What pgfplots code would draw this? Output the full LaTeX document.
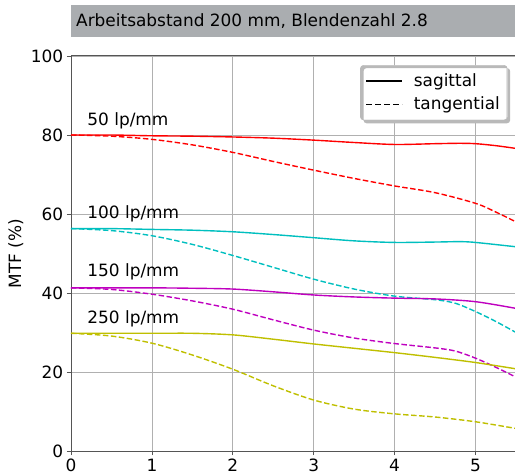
\documentclass[border=0pt]{standalone}
\usepackage{pgfplots}
\pgfplotsset{compat=1.18}
\usepackage{fontspec}
\setmainfont{DejaVu Sans}
\definecolor{mr}{HTML}{FF0000}
\definecolor{mc}{HTML}{00BFBF}
\definecolor{mm}{HTML}{BF00BF}
\definecolor{my}{HTML}{BFBF00}
\definecolor{titlegray}{HTML}{AAADB0}
\definecolor{gridgray}{HTML}{B0B0B0}
\definecolor{spine}{HTML}{555555}
\begin{document}
\begin{tikzpicture}
\fontsize{17}{20}\selectfont
\begin{axis}[
    name=ax,
    scale only axis,
    width=445bp, height=395bp,
    xmin=0, xmax=5.5,
    ymin=0, ymax=100,
    xtick={0,1,2,3,4,5},
    ytick={0,20,40,60,80,100},
    grid=major,
    major grid style={gridgray, line width=0.8pt},
    axis line style={spine, line width=1pt},
    tick style={spine, line width=0.8pt},
    tick align=outside,
    major tick length=4bp,
    xtick pos=bottom, ytick pos=left,
    /pgf/number format/assume math mode=true,
    ticklabel style={font=\fontsize{17}{20}\selectfont},
    xticklabel style={yshift=2bp},
    yticklabel style={xshift=2bp},
    ylabel={MTF (\%)},
    ylabel style={font=\fontsize{17}{20}\selectfont, yshift=-4bp},
    legend style={name=leg, at={(0.98,0.977)}, anchor=north east, draw=black!30,
        rounded corners=3pt, fill=white, font=\fontsize{17}{20}\selectfont,
        row sep=4bp, inner xsep=5bp, inner ysep=6bp,
        /tikz/every odd column/.append style={column sep=9bp}},
    legend cell align=left,
    legend image code/.code={\draw[#1, rounded corners=0pt] (0bp,0bp) -- (36bp,0bp);},
    every axis plot/.append style={line width=1.4pt, smooth},
]
\addlegendimage{black, line width=1.1pt}
\addlegendentry{sagittal}
\addlegendimage{black, line width=1.1pt, dash pattern=on 6bp off 3bp}
\addlegendentry{tangential}
% 50 lp/mm
\addplot[mr] coordinates {(0,80)(0.5,80)(1,79.8)(1.5,79.7)(2,79.5)(2.5,79.2)(3,78.7)(3.5,78.1)(4,77.6)(4.5,77.8)(4.8,77.9)(5,77.8)(5.25,77.3)(5.5,76.6)};
\addplot[mr, dash pattern=on 5.5bp off 2.5bp] coordinates {(0,80)(0.5,79.7)(1,78.9)(1.5,77.5)(2,75.6)(2.5,73.3)(3,71.1)(3.5,69)(4,67.1)(4.5,65.4)(5,62.7)(5.25,60.5)(5.5,58)};
% 100 lp/mm
\addplot[mc] coordinates {(0,56.3)(0.5,56.3)(1,56.1)(1.5,55.9)(2,55.5)(2.5,54.8)(3,54)(3.5,53.2)(4,52.8)(4.5,52.9)(4.8,53)(5,52.8)(5.5,51.7)};
\addplot[mc, dash pattern=on 5.5bp off 2.5bp] coordinates {(0,56.3)(0.5,55.8)(1,54.5)(1.5,52.3)(2,49.5)(2.5,46.5)(3,43.5)(3.5,41)(4,39.2)(4.5,38.3)(4.75,37.4)(5,35.3)(5.25,32.8)(5.5,30)};
% 150 lp/mm
\addplot[mm] coordinates {(0,41.3)(1,41.3)(1.5,41.2)(2,41)(2.5,40.3)(3,39.5)(3.5,39)(4,38.7)(4.5,38.5)(5,37.8)(5.5,36.1)};
\addplot[mm, dash pattern=on 5.5bp off 2.5bp] coordinates {(0,41.3)(0.5,40.9)(1,39.7)(1.5,38)(2,35.9)(2.5,33.2)(3,30.6)(3.5,28.6)(4,27.2)(4.5,26.1)(4.75,25.3)(5,23.5)(5.25,21.2)(5.5,18.7)};
% 250 lp/mm
\addplot[my] coordinates {(0,29.8)(1,29.8)(1.5,29.8)(2,29.4)(2.5,28.3)(3,27.1)(3.5,26)(4,24.9)(4.5,23.7)(5,22.4)(5.5,20.8)};
\addplot[my, dash pattern=on 5.5bp off 2.5bp] coordinates {(0,29.8)(0.5,29.1)(1,27.3)(1.5,24.3)(2,20.7)(2.5,16.5)(3,12.9)(3.5,10.6)(4,9.4)(4.5,8.6)(5,7.4)(5.5,5.7)};
\node[anchor=west, inner sep=0pt] at (axis cs:0.2,83.5) {50 lp/mm};
\node[anchor=west, inner sep=0pt] at (axis cs:0.2,60) {100 lp/mm};
\node[anchor=west, inner sep=0pt] at (axis cs:0.2,45.3) {150 lp/mm};
\node[anchor=west, inner sep=0pt] at (axis cs:0.2,33.4) {250 lp/mm};
\end{axis}
% legend shadow: offset box minus the legend box
\fill[gray!55, even odd rule, rounded corners=3pt]
    ([xshift=3bp,yshift=-3bp]leg.south west) rectangle ([xshift=3bp,yshift=-3bp]leg.north east)
    ([xshift=0.4pt,yshift=-0.4pt]leg.north east) rectangle ([xshift=-0.4pt,yshift=0.4pt]leg.south west);
\fill[titlegray] ([yshift=19bp]ax.north west) rectangle ([xshift=444bp,yshift=51bp]ax.north west);
\node[anchor=west, inner sep=0pt] at ([xshift=5bp,yshift=35bp]ax.north west) {Arbeitsabstand 200 mm, Blendenzahl 2.8};
\pgfresetboundingbox
\path[use as bounding box] ([xshift=-71bp,yshift=-24bp]ax.south west) rectangle ([xshift=444bp,yshift=56bp]ax.north west);
\end{tikzpicture}
\end{document}
